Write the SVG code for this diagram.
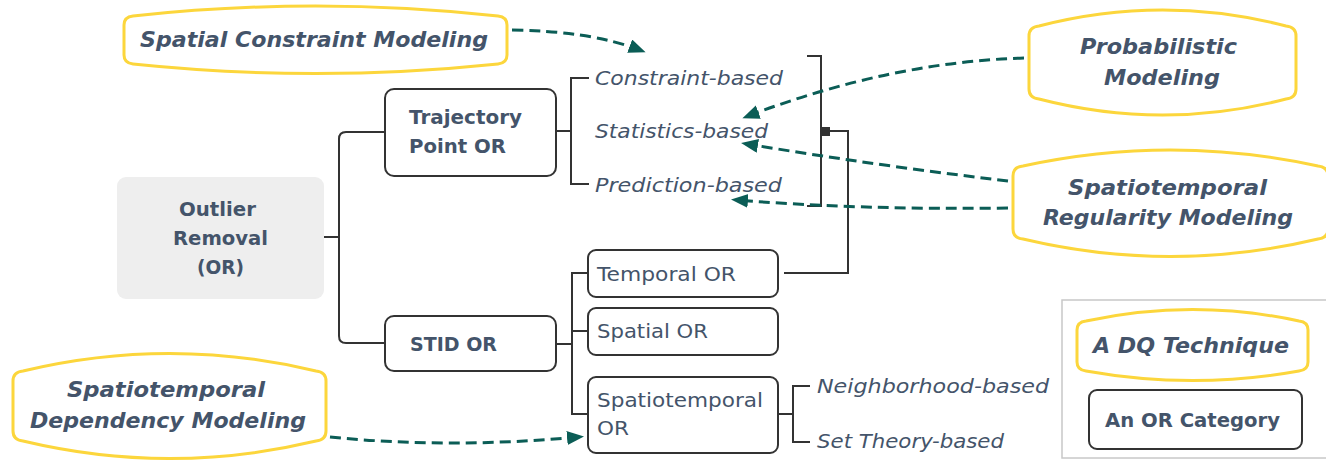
<svg xmlns="http://www.w3.org/2000/svg" width="1326" height="460" viewBox="0 0 1326 460">
  <style>
    text { font-family: "DejaVu Sans", "Open Sans", sans-serif; fill: #44546a; }
    .tech { fill: #ffffff; stroke: #fcd63c; stroke-width: 3; }
    .techlabel { font-size: 21px; font-weight: bold; font-style: italic; }
    .cat { fill: #ffffff; stroke: #333333; stroke-width: 2; }
    .catlabel { font-size: 20px; font-weight: bold; }
    .sub { font-size: 19.5px; }
    .method { font-size: 19px; font-style: italic; }
    .tree { fill: none; stroke: #333333; stroke-width: 2; }
    .dq { fill: none; stroke: #0b5d56; stroke-width: 3; stroke-dasharray: 11 6; }
  </style>
  <defs>
    <marker id="tealHead" markerUnits="userSpaceOnUse" markerWidth="18" markerHeight="16" refX="11" refY="7" orient="auto">
      <path d="M0,0 L17,7 L0,14 Z" fill="#0b5d56"/>
    </marker>
  </defs>

  <!-- root category -->
  <g id="outlier-removal">
    <rect x="117" y="177" width="207" height="122" rx="9" fill="#eeeeee"/>
    <text class="catlabel" x="179" y="216" textLength="77" lengthAdjust="spacingAndGlyphs">Outlier</text>
    <text class="catlabel" x="173" y="245" textLength="95" lengthAdjust="spacingAndGlyphs">Removal</text>
    <text class="catlabel" x="197" y="274" textLength="47" lengthAdjust="spacingAndGlyphs">(OR)</text>
  </g>

  <!-- OR categories -->
  <g id="trajectory-point-or">
    <rect class="cat" x="385" y="89" width="171" height="87" rx="9"/>
    <text class="catlabel" x="409" y="124" textLength="113" lengthAdjust="spacingAndGlyphs">Trajectory</text>
    <text class="catlabel" x="409" y="153" textLength="97" lengthAdjust="spacingAndGlyphs">Point OR</text>
  </g>
  <g id="stid-or">
    <rect class="cat" x="385" y="316" width="171" height="55" rx="9"/>
    <text class="catlabel" x="410" y="351" textLength="87" lengthAdjust="spacingAndGlyphs">STID OR</text>
  </g>
  <g id="temporal-or">
    <rect class="cat" x="588" y="250" width="190" height="47" rx="8"/>
    <text class="sub" x="597" y="281" textLength="139" lengthAdjust="spacingAndGlyphs">Temporal OR</text>
  </g>
  <g id="spatial-or">
    <rect class="cat" x="588" y="308" width="190" height="47" rx="8"/>
    <text class="sub" x="597" y="338" textLength="111" lengthAdjust="spacingAndGlyphs">Spatial OR</text>
  </g>
  <g id="spatiotemporal-or">
    <rect class="cat" x="588" y="377" width="190" height="76" rx="8"/>
    <text class="sub" x="597" y="407" textLength="166" lengthAdjust="spacingAndGlyphs">Spatiotemporal</text>
    <text class="sub" x="597" y="435" textLength="32" lengthAdjust="spacingAndGlyphs">OR</text>
  </g>

  <!-- method leaves -->
  <g id="constraint-based"><text class="method" x="595" y="85" textLength="188" lengthAdjust="spacingAndGlyphs">Constraint-based</text></g>
  <g id="statistics-based"><text class="method" x="595" y="138" textLength="173" lengthAdjust="spacingAndGlyphs">Statistics-based</text></g>
  <g id="prediction-based"><text class="method" x="595" y="192" textLength="187" lengthAdjust="spacingAndGlyphs">Prediction-based</text></g>
  <g id="neighborhood-based"><text class="method" x="817" y="393" textLength="232" lengthAdjust="spacingAndGlyphs">Neighborhood-based</text></g>
  <g id="set-theory-based"><text class="method" x="817" y="448" textLength="187" lengthAdjust="spacingAndGlyphs">Set Theory-based</text></g>

  <!-- DQ techniques -->
  <g id="spatial-constraint-modeling">
    <path class="tech" d="M124,25 Q124,17 133,16 Q315.5,-4 498,16 Q507,17 507,25 L507,55 Q507,63 498,64 Q315.5,83 133,64 Q124,63 124,55 Z"/>
    <text class="techlabel" x="140" y="47" textLength="348" lengthAdjust="spacingAndGlyphs">Spatial Constraint Modeling</text>
  </g>
  <g id="probabilistic-modeling">
    <path class="tech" d="M1029,36 Q1029,27 1039,26 Q1162.5,-6 1286,26 Q1296,27 1296,36 L1296,89 Q1296,98 1286,99 Q1162.5,131 1039,99 Q1029,98 1029,89 Z"/>
    <text class="techlabel" x="1080" y="54" textLength="157" lengthAdjust="spacingAndGlyphs">Probabilistic</text>
    <text class="techlabel" x="1104" y="85" textLength="116" lengthAdjust="spacingAndGlyphs">Modeling</text>
  </g>
  <g id="spatiotemporal-regularity-modeling">
    <path class="tech" d="M1013,176 Q1013,167 1023,166 Q1170.5,134 1318,166 Q1328,167 1328,176 L1328,229 Q1328,238 1318,239 Q1170.5,274 1023,239 Q1013,238 1013,229 Z"/>
    <text class="techlabel" x="1068" y="195" textLength="199" lengthAdjust="spacingAndGlyphs">Spatiotemporal</text>
    <text class="techlabel" x="1043" y="225" textLength="250" lengthAdjust="spacingAndGlyphs">Regularity Modeling</text>
  </g>
  <g id="spatiotemporal-dependency-modeling">
    <path class="tech" d="M13,381 Q13,372 23,371 Q169.5,336 316,371 Q326,372 326,381 L326,431 Q326,440 316,441 Q169.5,476 23,441 Q13,440 13,431 Z"/>
    <text class="techlabel" x="67" y="397" textLength="198" lengthAdjust="spacingAndGlyphs">Spatiotemporal</text>
    <text class="techlabel" x="30" y="428" textLength="276" lengthAdjust="spacingAndGlyphs">Dependency Modeling</text>
  </g>

  <!-- legend -->
  <g id="legend">
    <rect x="1062" y="300" width="272" height="158" fill="none" stroke="#c8c8c8" stroke-width="1.5"/>
    <g id="legend-technique">
      <path class="tech" d="M1077,330 Q1077,322 1086,321 Q1192.5,298 1299,321 Q1308,322 1308,330 L1308,362 Q1308,370 1299,371 Q1192.5,390 1086,371 Q1077,370 1077,362 Z"/>
      <text class="techlabel" x="1093" y="353" textLength="196" lengthAdjust="spacingAndGlyphs">A DQ Technique</text>
    </g>
    <g id="legend-category">
      <rect class="cat" x="1089" y="390" width="213" height="59" rx="8"/>
      <text class="catlabel" x="1105" y="427" textLength="175" lengthAdjust="spacingAndGlyphs">An OR Category</text>
    </g>
  </g>

  <!-- connectors -->
  <g id="connectors">
    <!-- taxonomy tree -->
    <path class="tree" d="M324,237 H339"/>
    <path class="tree" d="M385,132 H346 Q339,132 339,139 V336 Q339,343 346,343 H385"/>
    <path class="tree" d="M556,131 H571"/>
    <path class="tree" d="M589,78 H571 V184 H589"/>
    <path class="tree" d="M556,344 H572"/>
    <path class="tree" d="M588,273 H572 V414 H588"/>
    <path class="tree" d="M572,331 H588"/>
    <path class="tree" d="M778,414 H793"/>
    <path class="tree" d="M810,386 H793 V442 H810"/>
    <!-- trajectory methods also apply to temporal OR -->
    <path class="tree" d="M807,56 H821 V206 H807"/>
    <rect x="820" y="127" width="10" height="9" fill="#333333"/>
    <path class="tree" d="M829,131 H848 V273 H784"/>
    <!-- technique links -->
    <path class="dq" d="M512,30 Q590,31 640,50" marker-end="url(#tealHead)"/>
    <path class="dq" d="M1024,58 Q890,62 748,116" marker-end="url(#tealHead)"/>
    <path class="dq" d="M1008,181 Q880,166 747,144" marker-end="url(#tealHead)"/>
    <path class="dq" d="M1008,208 Q860,210 737,200" marker-end="url(#tealHead)"/>
    <path class="dq" d="M330,437 Q450,449 578,437" marker-end="url(#tealHead)"/>
  </g>
</svg>
